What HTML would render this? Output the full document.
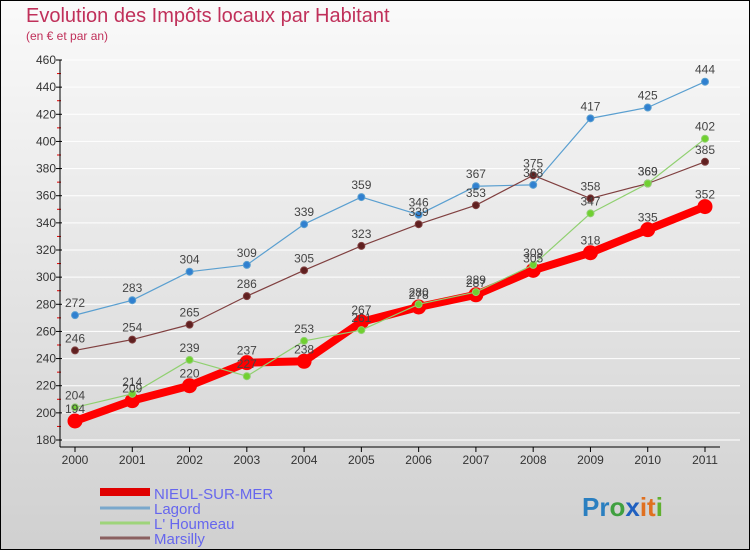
<!DOCTYPE html>
<html><head><meta charset="utf-8"><style>
body{margin:0;width:750px;height:550px;overflow:hidden;font-family:"Liberation Sans",sans-serif}
svg text{font-family:"Liberation Sans",sans-serif}
</style></head><body>
<svg id="c" width="750" height="550" viewBox="0 0 750 550">
<defs><linearGradient id="bg" x1="0" y1="0" x2="0" y2="1"><stop offset="0" stop-color="#fafafa"/><stop offset="1" stop-color="#d0d0d0"/></linearGradient></defs>
<rect x="0.5" y="0.5" width="749" height="549" fill="url(#bg)" stroke="#000"/>
<text x="26" y="22" font-size="20" fill="#c0305a">Evolution des Impôts locaux par Habitant</text>
<text x="26" y="40" font-size="12" fill="#c0305a">(en € et par an)</text>
<g id="grid"></g><g id="axes"></g><g id="series"></g><g id="labels"></g>
<g>
<rect x="100" y="488" width="50" height="8" fill="#e00000"/>
<text x="154" y="499" font-size="15" fill="#6666ee">NIEUL-SUR-MER</text>
<line x1="100" y1="508" x2="150" y2="508" stroke="#7aa8cc" stroke-width="3"/>
<text x="154" y="514" font-size="15" fill="#6666ee">Lagord</text>
<line x1="100" y1="523" x2="150" y2="523" stroke="#9ed47a" stroke-width="3"/>
<text x="154" y="529" font-size="15" fill="#6666ee">L' Houmeau</text>
<line x1="100" y1="538" x2="150" y2="538" stroke="#8a6060" stroke-width="3"/>
<text x="154" y="544" font-size="15" fill="#6666ee">Marsilly</text>
</g>
<text x="582" y="516" font-size="26" font-weight="bold"><tspan fill="#2a7fc0">Pr</tspan><tspan fill="#40a040">o</tspan><tspan fill="#2060c0">x</tspan><tspan fill="#e07020">it</tspan><tspan fill="#60b030">i</tspan></text>
</svg>
<script>
const years=[2000,2001,2002,2003,2004,2005,2006,2007,2008,2009,2010,2011];
const yTicks=[180,200,220,240,260,280,300,320,340,360,380,400,420,440,460];
const nieul=[194,209,220,237,238,267,278,287,305,318,335,352];
const lagord=[272,283,304,309,339,359,346,367,368,417,425,444];
const houmeau=[204,214,239,227,253,261,280,289,309,347,369,402];
const marsilly=[246,254,265,286,305,323,339,353,375,358,369,385];
const NS="http://www.w3.org/2000/svg";
const X=i=>75+i*(630/11);
const Y=v=>440-(v-180)*(380/280);
function mk(t,a,p){const e=document.createElementNS(NS,t);for(const k in a)e.setAttribute(k,a[k]);document.getElementById(p).appendChild(e);return e;}
yTicks.forEach(v=>{
 const l=mk('line',{x1:60,x2:740,y1:Y(v),y2:Y(v),stroke:'#ffffff','stroke-width':1},'grid');
 
 
 const t=mk('text',{x:56,y:Y(v)+4,'font-size':12,'text-anchor':'end',fill:'#333'},'axes');t.textContent=v;
 
 
 mk('line',{x1:56,x2:62,y1:Y(v),y2:Y(v),stroke:'#000'},'axes');
 if(v<460)mk('line',{x1:57,x2:61,y1:Y(v+10),y2:Y(v+10),stroke:'#e00000'},'axes');
});
mk('line',{x1:60,x2:60,y1:Y(460),y2:447,stroke:'#000'},'axes');
mk('line',{x1:60,x2:720,y1:447,y2:447,stroke:'#000'},'axes');
years.forEach((y,i)=>{
 mk('line',{x1:X(i),x2:X(i),y1:447,y2:452,stroke:'#000'},'axes');
 const t=mk('text',{x:X(i),y:464,'font-size':12,'text-anchor':'middle',fill:'#333'},'axes');t.textContent=y;
 
 
});
function series(data,name,col,w,r,dot){
 const p=mk('polyline',{points:data.map((v,i)=>X(i)+','+Y(v)).join(' '),fill:'none',stroke:col,'stroke-width':w,'stroke-linejoin':'round'},'series');
 
 
 data.forEach((v,i)=>{
  const c=mk('circle',{cx:X(i),cy:Y(v),r:r,fill:dot,stroke:col,'stroke-width':1},'series');
  
  
  const t=mk('text',{x:X(i),y:Y(v)-8,'font-size':12,'text-anchor':'middle',fill:'#444'},'labels');t.textContent=v;
  
  
 });
}
series(lagord,'lagord','#5a9fd0',1.2,3.5,'#3080d0');
series(marsilly,'marsilly','#804040',1.2,3.5,'#602020');
series(nieul,'nieul','#ff0000',8,7,'#ff0000');
series(houmeau,'houmeau','#90d070',1.2,3.5,'#70d030');
</script>
</body></html>
